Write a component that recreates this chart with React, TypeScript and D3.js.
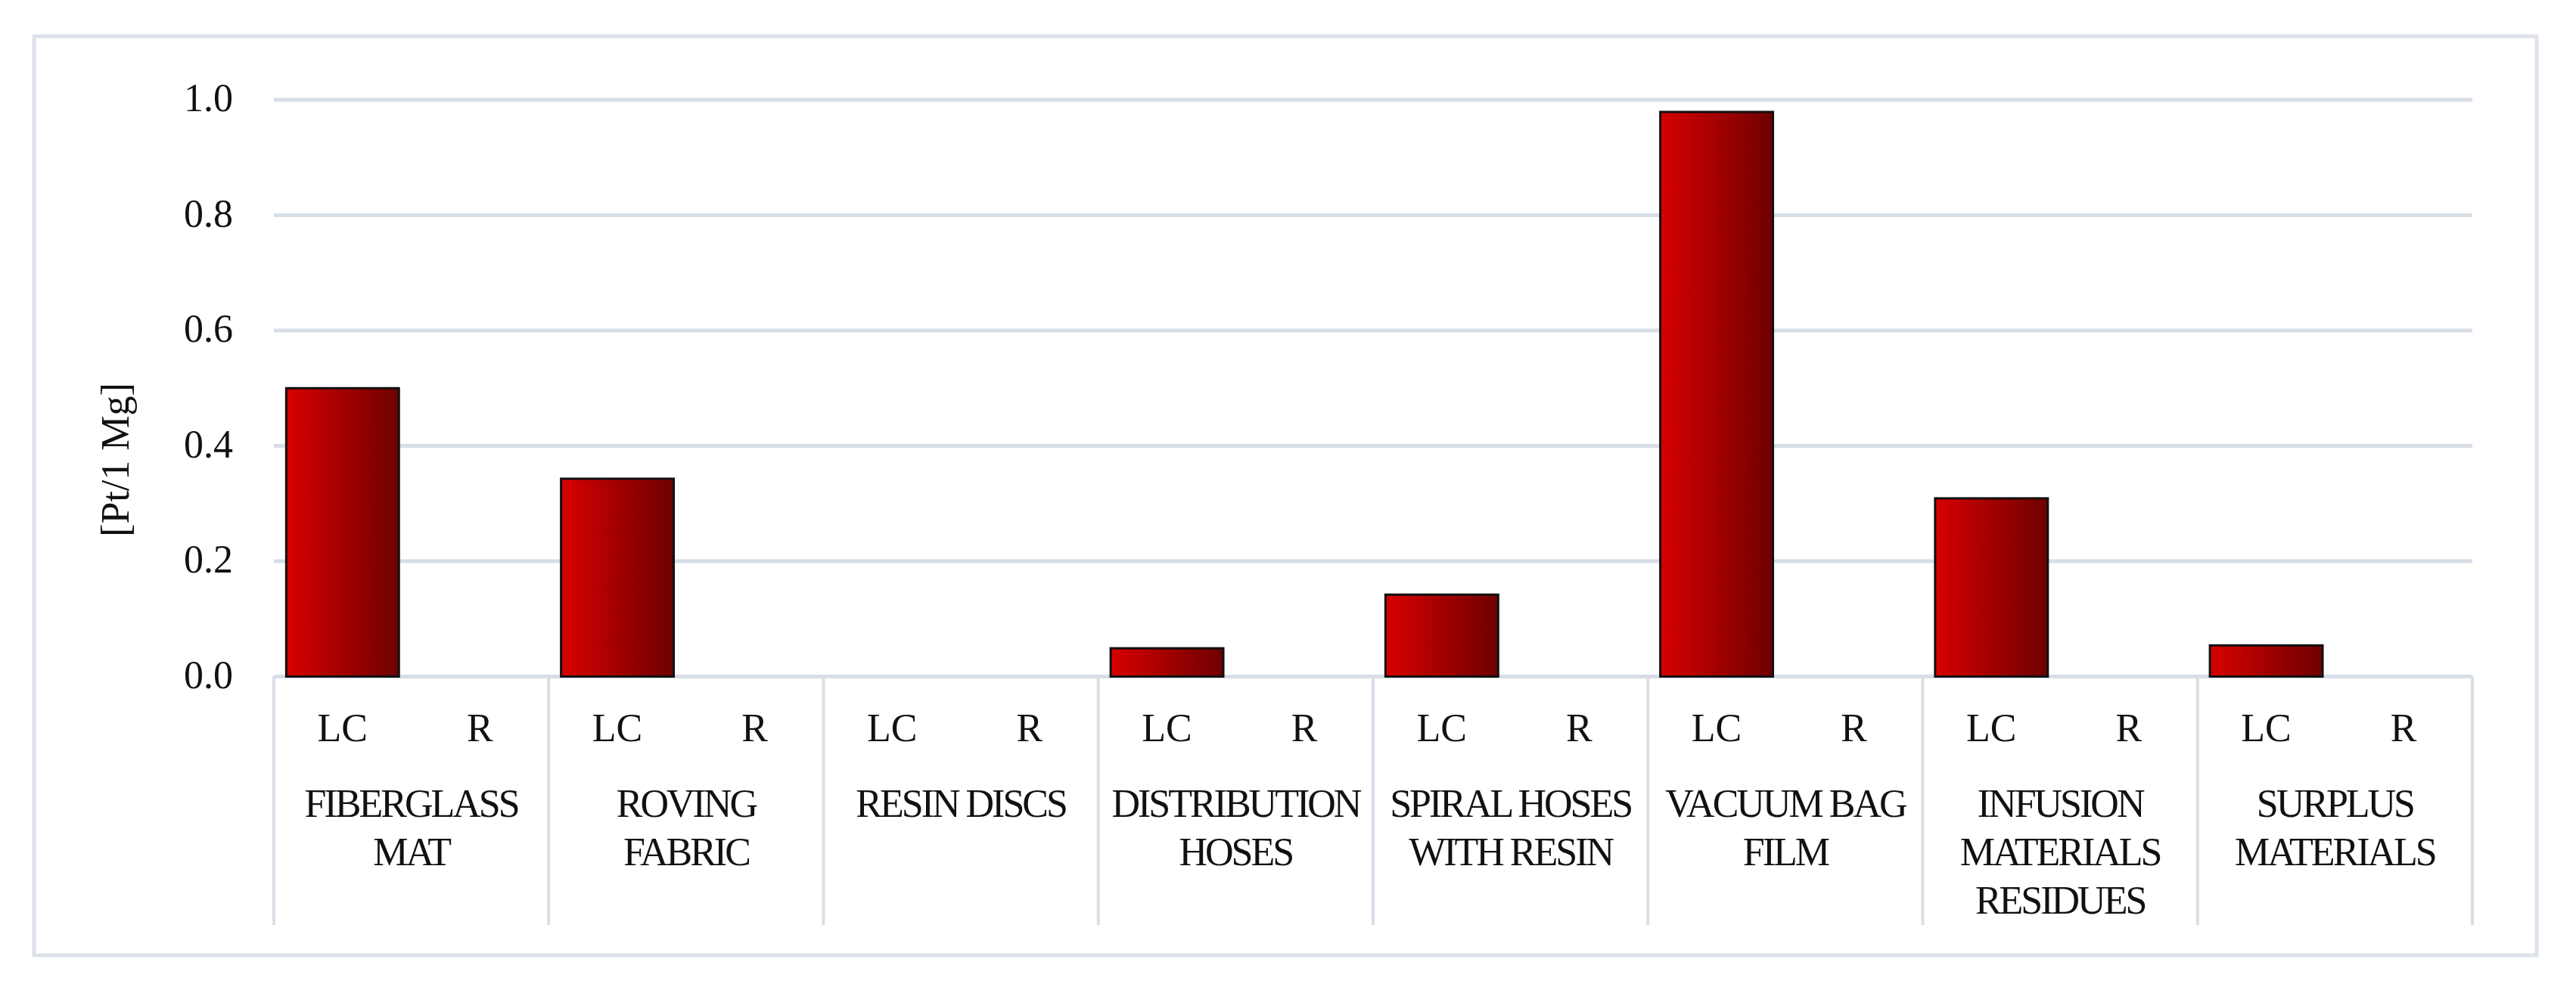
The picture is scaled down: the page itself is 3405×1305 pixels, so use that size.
import React from 'react';
import * as d3 from 'd3';

// Data
const groups = [
  'FIBERGLASS MAT',
  'ROVING FABRIC',
  'RESIN DISCS',
  'DISTRIBUTION HOSES',
  'SPIRAL HOSES WITH RESIN',
  'VACUUM BAG FILM',
  'INFUSION MATERIALS RESIDUES',
  'SURPLUS MATERIALS'
];
const groupLines = [
  ['FIBERGLASS', 'MAT'],
  ['ROVING', 'FABRIC'],
  ['RESIN DISCS'],
  ['DISTRIBUTION', 'HOSES'],
  ['SPIRAL HOSES', 'WITH RESIN'],
  ['VACUUM BAG', 'FILM'],
  ['INFUSION', 'MATERIALS', 'RESIDUES'],
  ['SURPLUS', 'MATERIALS']
];
const subgroups = ['LC', 'R'];
const lcValues = [0.5, 0.343, 0, 0.049, 0.142, 0.979, 0.309, 0.054];
const rValues = [0, 0, 0, 0, 0, 0, 0, 0];
const yTicks = [0, 0.2, 0.4, 0.6, 0.8, 1.0];
const yTitle = '[Pt/1 Mg]';

const W = 3405;
const H = 1305;
const FONT = '"Liberation Serif", "Times New Roman", serif';
const GRID = '#d8dee6';

function App() {
  const x0 = d3.scaleBand().domain(groups).range([362, 3268]).padding(0);
  const x1 = d3.scaleBand()
    .domain(subgroups)
    .range([0, x0.bandwidth()])
    .paddingInner(0.18)
    .paddingOuter(0.09);
  const y = d3.scaleLinear().domain([0, 1]).range([894.5, 132]);
  const fmt = d3.format('.1f');

  const bars = groups.flatMap((g, i) => [
    { g, key: 'LC', v: lcValues[i] },
    { g, key: 'R', v: rValues[i] }
  ]);

  const catTop = y(0);
  const catBottom = 1223;

  return (
    <svg width={W} height={H} style={{ position: 'absolute', left: 0, top: 0, background: '#fff' }}>
      <defs>
        <linearGradient id="barGrad" x1="0" x2="1" y1="0" y2="0">
          <stop offset="0%" stopColor="#d80000" />
          <stop offset="100%" stopColor="#6e0000" />
        </linearGradient>
      </defs>
      <rect x={0} y={0} width={W} height={H} fill="#fff" />

      {/* outer frame */}
      <rect x={45} y={48} width={3308} height={1215} fill="none" stroke="#dde2ea" strokeWidth={5} />

      {/* gridlines */}
      {yTicks.map(t => (
        <line key={t} x1={x0.range()[0]} x2={x0.range()[1]} y1={y(t)} y2={y(t)}
          stroke={GRID} strokeWidth={5} />
      ))}

      {/* tick labels */}
      {yTicks.map(t => (
        <text key={'l' + t} x={308} y={y(t) + 15} textAnchor="end"
          fontFamily={FONT} fontSize={52} fill="#111">{fmt(t)}</text>
      ))}

      {/* y title */}
      <text transform={`translate(170,608) rotate(-90)`} textAnchor="middle"
        fontFamily={FONT} fontSize={52} fill="#111">{yTitle}</text>

      {/* category separators */}
      {groups.map(g => (
        <line key={'s' + g} x1={x0(g)} x2={x0(g)} y1={catTop} y2={catBottom} stroke={GRID} strokeWidth={4} />
      ))}
      <line x1={x0.range()[1]} x2={x0.range()[1]} y1={catTop} y2={catBottom} stroke={GRID} strokeWidth={4} />

      {/* bars */}
      {bars.filter(b => b.v > 0).map(b => (
        <rect key={b.g + b.key}
          x={x0(b.g) + x1(b.key)}
          y={y(b.v)}
          width={x1.bandwidth()}
          height={y(0) - y(b.v)}
          fill="url(#barGrad)"
          stroke="#111" strokeWidth={3} />
      ))}

      {/* subgroup labels */}
      {groups.flatMap(g => subgroups.map(s => (
        <text key={'t' + g + s} x={x0(g) + x1(s) + x1.bandwidth() / 2} y={980}
          textAnchor="middle" fontFamily={FONT} fontSize={52} fill="#111">{s}</text>
      )))}

      {/* group labels */}
      {groups.map((g, i) => (
        <text key={'g' + g} textAnchor="middle" fontFamily={FONT} fontSize={52}
          letterSpacing={-3} fill="#111">
          {groupLines[i].map((ln, j) => (
            <tspan key={j} x={x0(g) + x0.bandwidth() / 2} y={1080 + j * 64}>{ln}</tspan>
          ))}
        </text>
      ))}
    </svg>
  );
}

export default App;
